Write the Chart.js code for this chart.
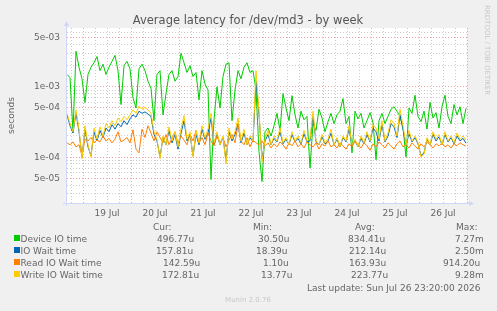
<!DOCTYPE html>
<html>
<head>
  <title>Average latency for /dev/md3 - by week</title>
  <style>
    body {
      margin: 0;
      background: #f0f0f0;
    }
    canvas {
      display: block;
    }
  </style>
</head>
<body>
  <canvas id="latencyChart" width="497" height="311"></canvas>

  <script src="https://cdn.jsdelivr.net/npm/chart.js"></script>

  <script>
    // time axis: hours after 18 Jul 00:00, one sample every 1.5 h
    const startHour = 16;
    const stepHours = 1.5;
    const dayLabels = ['19 Jul', '20 Jul', '21 Jul', '22 Jul', '23 Jul', '24 Jul', '25 Jul', '26 Jul'];

    const yTickValues = [5e-5, 1e-4, 5e-4, 1e-3, 5e-3];
    const yTickLabels = ['5e-05', '1e-04', '5e-04', '1e-03', '5e-03'];

    // latencies in microseconds
    const deviceIO = [1500, 1350, 230, 3200, 1900, 1300, 600, 1500, 1900, 2200,
      2700, 1700, 2100, 1500, 1900, 2300, 2800, 1700, 560, 2000,
      2300, 1800, 700, 500, 1800, 2100, 1700, 1200, 950, 330,
      1500, 1700, 400, 800, 1500, 1700, 1200, 1400, 3000, 2200,
      1600, 2000, 1400, 1600, 650, 1700, 1100, 900, 48, 340,
      1000, 500, 1400, 2100, 2200, 330, 900, 1700, 1300, 1900,
      2200, 1600, 1700, 900, 120, 45, 230, 260, 200, 280,
      420, 240, 800, 500, 330, 750, 400, 260, 450, 340,
      380, 70, 300, 240, 480, 360, 230, 320, 420, 300,
      400, 450, 680, 300, 380, 115, 450, 350, 420, 260,
      330, 430, 310, 92, 330, 420, 300, 380, 480, 520,
      450, 380, 260, 100, 500, 420, 760, 380, 320, 450,
      250, 600, 360, 430, 260, 520, 760, 380, 300, 560,
      400, 520, 300, 497];

    const ioWait = [400, 280, 220, 430, 230, 100, 250, 140, 105, 230,
      170, 240, 190, 260, 230, 290, 250, 300, 270, 330,
      290, 350, 400, 370, 450, 420, 440, 410, 380, 210,
      170, 100, 190, 150, 240, 160, 210, 130, 220, 330,
      170, 210, 105, 210, 150, 250, 180, 220, 360, 150,
      210, 150, 190, 90, 230, 170, 210, 300, 160, 220,
      150, 190, 165, 1200, 400, 95, 170, 210, 150, 185,
      165, 230, 155, 180, 150, 210, 165, 185, 155, 215,
      165, 170, 380, 165, 150, 195, 155, 170, 220, 150,
      180, 140, 190, 165, 250, 150, 170, 140, 185, 155,
      210, 165, 260, 230, 170, 290, 165, 200, 300, 270,
      190, 400, 250, 150, 215, 165, 190, 155, 105, 115,
      180, 150, 210, 170, 195, 150, 210, 165, 190, 155,
      200, 170, 185, 158];

    const readWait = [160, 150, 165, 140, 150, 105, 180, 170, 190, 160,
      175, 165, 200, 170, 185, 160, 180, 230, 165, 175,
      190, 160, 245, 130, 115, 250, 190, 280, 220, 170,
      230, 190, 160, 210, 150, 185, 230, 155, 200, 175,
      150, 210, 170, 240, 160, 190, 150, 220, 170, 145,
      200, 160, 190, 140, 175, 210, 160, 290, 170, 150,
      190, 140, 175, 160, 150, 170, 145, 160, 135, 155,
      140, 165, 150, 130, 160, 145, 170, 140, 155, 135,
      165, 150, 140, 160, 130, 155, 145, 170, 140, 150,
      135, 160, 145, 130, 155, 140, 170, 150, 135, 160,
      145, 125, 155, 140, 165, 150, 135, 160, 145, 130,
      155, 170, 140, 150, 135, 160, 145, 130, 155, 140,
      165, 150, 135, 155, 145, 160, 140, 150, 135, 155,
      145, 160, 150, 143];

    const writeWait = [420, 300, 230, 470, 250, 95, 280, 150, 100, 260,
      180, 270, 200, 300, 260, 330, 280, 360, 320, 380,
      340, 400, 470, 420, 530, 480, 510, 470, 420, 230,
      180, 95, 200, 150, 270, 170, 230, 140, 250, 390,
      180, 230, 100, 240, 160, 280, 190, 250, 420, 160,
      230, 150, 200, 80, 260, 180, 230, 360, 170, 250,
      150, 200, 170, 1700, 450, 86, 180, 240, 150, 200,
      170, 260, 160, 190, 150, 230, 170, 200, 160, 240,
      170, 180, 450, 170, 150, 210, 160, 180, 250, 150,
      190, 140, 200, 170, 280, 150, 180, 140, 200, 160,
      230, 170, 290, 260, 180, 330, 170, 220, 340, 300,
      200, 480, 280, 150, 240, 170, 200, 160, 100, 110,
      190, 150, 230, 180, 210, 150, 230, 170, 200, 160,
      220, 180, 200, 173];

    // legend table
    const seriesNames = ['Device IO time', 'IO Wait time', 'Read IO Wait time', 'Write IO Wait time'];
    const seriesColors = ['#00CC00', '#0066B3', '#FF8000', '#FFCC00'];
    const curValues = ['496.77u', '157.81u', '142.59u', '172.81u'];
    const minValues = ['30.50u', '18.39u', '1.10u', '13.77u'];
    const avgValues = ['834.41u', '212.14u', '163.93u', '223.77u'];
    const maxValues = ['7.27m', '2.50m', '914.20u', '9.28m'];

    const FONT = '"DejaVu Sans", Verdana, sans-serif';
    const gridGray = 'rgba(190,190,190,0.8)';
    const gridRed = 'rgba(240,140,140,0.8)';
    const axisColor = '#CFD6F8';

    function toPoints(values) {
      return values.map((v, i) => ({ x: startHour + i * stepHours, y: v / 1e6 }));
    }

    function isMajorY(v) {
      const e = Math.floor(Math.log10(v) + 1e-9);
      const m = Math.round(v / Math.pow(10, e));
      return m === 1 || m === 5;
    }

    // background, canvas, axes, texts and legend drawn like munin
    const muninLook = {
      id: 'muninLook',
      beforeDraw(chart) {
        const ctx = chart.ctx;
        const a = chart.chartArea;
        ctx.save();
        ctx.fillStyle = '#f0f0f0';
        ctx.fillRect(0, 0, chart.width, chart.height);
        ctx.fillStyle = '#ffffff';
        ctx.fillRect(a.left, a.top, a.right - a.left, a.bottom - a.top);
        ctx.restore();
      },
      afterDraw(chart) {
        const ctx = chart.ctx;
        const a = chart.chartArea;
        ctx.save();

        // axes + arrows
        ctx.strokeStyle = axisColor;
        ctx.fillStyle = axisColor;
        ctx.lineWidth = 1;
        ctx.beginPath();
        ctx.moveTo(a.left - 0.5, a.bottom + 3);
        ctx.lineTo(a.left - 0.5, a.top - 4);
        ctx.moveTo(a.left - 4, a.bottom + 0.5);
        ctx.lineTo(a.right + 3, a.bottom + 0.5);
        ctx.stroke();
        ctx.beginPath();
        ctx.moveTo(a.left - 3, a.top - 2);
        ctx.lineTo(a.left + 2, a.top - 2);
        ctx.lineTo(a.left - 0.5, a.top - 7);
        ctx.fill();
        ctx.beginPath();
        ctx.moveTo(a.right + 2, a.bottom - 2);
        ctx.lineTo(a.right + 2, a.bottom + 3);
        ctx.lineTo(a.right + 7, a.bottom + 0.5);
        ctx.fill();

        // title
        ctx.fillStyle = '#555';
        ctx.font = '11.5px ' + FONT;
        ctx.textAlign = 'center';
        ctx.textBaseline = 'alphabetic';
        ctx.fillText('Average latency for /dev/md3 - by week', 248, 24);

        // y axis title
        ctx.fillStyle = '#666';
        ctx.font = '9px ' + FONT;
        ctx.save();
        ctx.translate(14, (a.top + a.bottom) / 2);
        ctx.rotate(-Math.PI / 2);
        ctx.fillText('seconds', 0, 0);
        ctx.restore();

        // rrdtool watermark
        ctx.save();
        ctx.fillStyle = '#c8c8c8';
        ctx.font = '7px ' + FONT;
        ctx.translate(485, 5);
        ctx.rotate(Math.PI / 2);
        ctx.textAlign = 'left';
        ctx.fillText('RRDTOOL / TOBI OETIKER', 0, 0);
        ctx.restore();

        // legend
        ctx.font = '9px ' + FONT;
        ctx.textAlign = 'left';
        ctx.fillStyle = '#666';
        ctx.fillText('Cur:', 153, 230);
        ctx.fillText('Min:', 253, 230);
        ctx.fillText('Avg:', 355, 230);
        ctx.fillText('Max:', 456, 230);

        const curX = [157, 156, 163, 162];
        const minX = [258, 256, 263, 261];
        const avgX = [348, 349, 349, 351];
        const maxX = [455, 455, 443, 455];
        for (let i = 0; i < seriesNames.length; i++) {
          const y = 242 + i * 12;
          ctx.fillStyle = seriesColors[i];
          ctx.fillRect(14, y - 7, 6, 6);
          ctx.fillStyle = '#666';
          ctx.fillText(seriesNames[i], 20.5, y);
          ctx.fillText(curValues[i], curX[i], y);
          ctx.fillText(minValues[i], minX[i], y);
          ctx.fillText(avgValues[i], avgX[i], y);
          ctx.fillText(maxValues[i], maxX[i], y);
        }
        ctx.fillText('Last update: Sun Jul 26 23:20:00 2026', 307, 291);

        ctx.fillStyle = '#c8c8c8';
        ctx.font = '7px ' + FONT;
        ctx.textAlign = 'center';
        ctx.fillText('Munin 2.0.76', 248, 302);

        ctx.restore();
      }
    };

    const lineStyle = { borderWidth: 1, pointRadius: 0, tension: 0, fill: false };

    new Chart(document.getElementById('latencyChart').getContext('2d'), {
      type: 'line',
      data: {
        datasets: [
          Object.assign({ label: seriesNames[0], data: toPoints(deviceIO), borderColor: seriesColors[0], order: 4 }, lineStyle),
          Object.assign({ label: seriesNames[1], data: toPoints(ioWait), borderColor: seriesColors[1], order: 3 }, lineStyle),
          Object.assign({ label: seriesNames[2], data: toPoints(readWait), borderColor: seriesColors[2], order: 2 }, lineStyle),
          Object.assign({ label: seriesNames[3], data: toPoints(writeWait), borderColor: seriesColors[3], order: 1 }, lineStyle)
        ]
      },
      options: {
        responsive: false,
        animation: false,
        layout: { padding: { left: 0, right: 30, top: 28, bottom: 88 } },
        plugins: {
          legend: { display: false },
          tooltip: { enabled: false },
          title: { display: false }
        },
        scales: {
          x: {
            type: 'linear',
            min: 16,
            max: 216,
            afterBuildTicks(scale) {
              const ticks = [];
              for (let h = 18; h <= 216; h += 6) ticks.push({ value: h });
              scale.ticks = ticks;
            },
            afterFit(scale) { scale.height = 20; },
            ticks: {
              autoSkip: false,
              maxRotation: 0,
              padding: 5,
              color: '#666',
              font: { family: FONT, size: 9 },
              callback: (v) => (v % 24 === 12 ? dayLabels[(v - 36) / 24] : '')
            },
            grid: {
              drawTicks: false,
              lineWidth: 1,
              color: (c) => (c.tick && c.tick.value % 24 === 0 ? gridRed : gridGray)
            },
            border: { display: false, dash: [1, 2] }
          },
          y: {
            type: 'logarithmic',
            min: 2.23e-5,
            max: 6.86e-3,
            afterBuildTicks(scale) {
              const ticks = [];
              for (let e = -5; e <= -3; e++) {
                for (let m = 1; m <= 9; m++) {
                  const v = m * Math.pow(10, e);
                  if (v >= scale.min && v <= scale.max) ticks.push({ value: v });
                }
              }
              scale.ticks = ticks;
            },
            afterFit(scale) { scale.width = 67; },
            ticks: {
              autoSkip: false,
              padding: 7,
              color: '#666',
              font: { family: FONT, size: 9 },
              callback: (v) => {
                const k = yTickValues.findIndex((t) => Math.abs(t - v) / t < 1e-6);
                return k >= 0 ? yTickLabels[k] : '';
              }
            },
            grid: {
              drawTicks: false,
              lineWidth: 1,
              color: (c) => (c.tick && isMajorY(c.tick.value) ? gridRed : gridGray)
            },
            border: { display: false, dash: [1, 2] }
          }
        }
      },
      plugins: [muninLook]
    });
  </script>
</body>
</html>
